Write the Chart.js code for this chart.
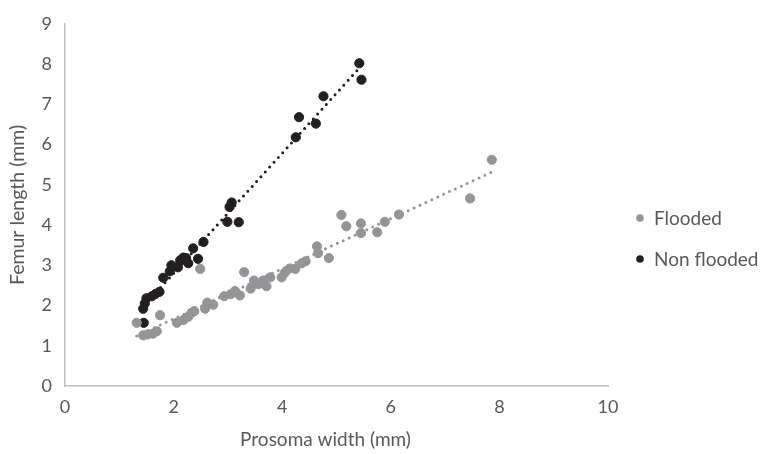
<!DOCTYPE html>
<html>
<head>
<meta charset="utf-8">
<script src="https://cdn.jsdelivr.net/npm/chart.js@4/dist/chart.umd.min.js"></script>
<style>
html,body{margin:0;padding:0;background:#fff;}
#wrap{width:765px;height:454px;position:relative;}
</style>
</head>
<body>
<div id="wrap"><canvas id="c" width="765" height="454"></canvas></div>
<script>
// ---- Data ----
const seriesNames = ["Flooded", "Non flooded"];
const floodedX = [1.32,1.44,1.52,1.62,1.69,1.75,2.06,2.18,2.27,2.33,2.38,2.49,2.58,2.62,2.73,2.93,3.05,3.13,3.22,3.30,3.42,3.48,3.56,3.65,3.71,3.78,3.99,4.05,4.14,4.24,4.36,4.43,4.64,4.66,4.86,5.09,5.18,5.45,5.45,5.75,5.89,6.15,7.46,7.86];
const floodedY = [1.57,1.26,1.28,1.30,1.36,1.76,1.57,1.64,1.72,1.82,1.86,2.91,1.92,2.07,2.02,2.23,2.28,2.36,2.25,2.83,2.42,2.62,2.53,2.62,2.48,2.70,2.70,2.82,2.92,2.91,3.05,3.10,3.47,3.30,3.18,4.25,3.97,4.04,3.80,3.82,4.08,4.26,4.66,5.62];
const nonFloodedX = [1.45,1.44,1.47,1.50,1.60,1.67,1.74,1.81,1.93,1.96,2.08,2.12,2.18,2.27,2.23,2.36,2.45,2.55,2.99,3.03,3.07,3.20,4.25,4.31,4.62,4.76,5.42,5.46];
const nonFloodedY = [1.57,1.92,2.05,2.18,2.23,2.29,2.34,2.69,2.85,3.00,2.95,3.12,3.19,3.05,3.18,3.42,3.16,3.58,4.08,4.45,4.56,4.07,6.18,6.68,6.52,7.20,8.02,7.61];
const xTicks = [0,2,4,6,8,10];
const yTicks = [0,1,2,3,4,5,6,7,8,9];
const xTitle = "Prosoma width (mm)";
const yTitle = "Femur length (mm)";

const GRAY = "#939598";
const BLACK = "#231f20";
const TEXT = "#595959";
const FONT = "Lato";

function pts(xs, ys){ return xs.map((x,i)=>({x:x, y:ys[i]})); }
// Linear (least squares) trendline, as in the spreadsheet's trendline option
function trend(xs, ys){
  const n = xs.length;
  const mx = xs.reduce((a,b)=>a+b,0)/n, my = ys.reduce((a,b)=>a+b,0)/n;
  let sxy=0, sxx=0;
  for(let i=0;i<n;i++){ sxy += (xs[i]-mx)*(ys[i]-my); sxx += (xs[i]-mx)*(xs[i]-mx); }
  const b = sxy/sxx, a = my - b*mx;
  const x0 = Math.min(...xs), x1 = Math.max(...xs);
  return [{x:x0, y:a+b*x0}, {x:x1, y:a+b*x1}];
}

const legendPlugin = {
  id: 'sideLegend',
  afterDraw(chart){
    const ctx = chart.ctx, ca = chart.chartArea;
    const items = chart.data.datasets.filter(d=>d.legend);
    ctx.save();
    ctx.font = "19px " + FONT;
    ctx.textBaseline = "middle";
    const x = ca.right + 32, y0 = 218, gap = 41;
    items.forEach((d,i)=>{
      const y = y0 + i*gap;
      ctx.fillStyle = d.backgroundColor;
      ctx.beginPath(); ctx.arc(x, y, 3.8, 0, Math.PI*2); ctx.fill();
      ctx.fillStyle = TEXT;
      ctx.fillText(d.label, x + 14, y + 1);
    });
    // x axis title, centred a little left of the plot centre as in the reference
    ctx.font = "19px " + FONT;
    ctx.textAlign = "center";
    ctx.fillStyle = TEXT;
    ctx.fillText(xTitle, (ca.left + ca.right)/2 - 11, 440);
    ctx.restore();
  }
};

const fTrend = trend(floodedX, floodedY);
const nTrend = trend(nonFloodedX, nonFloodedY);

new Chart(document.getElementById('c'), {
  type: 'scatter',
  data: {
    datasets: [
      {label: seriesNames[0], legend:true, data: pts(floodedX, floodedY), backgroundColor: GRAY, borderColor: GRAY, pointRadius: 4.6, pointBorderWidth: 1, order: 2},
      {label: seriesNames[1], legend:true, data: pts(nonFloodedX, nonFloodedY), backgroundColor: BLACK, borderColor: BLACK, pointRadius: 4.6, pointBorderWidth: 1, order: 2},
      {label: "Flooded trend", data: fTrend, showLine: true, pointRadius: 0, borderColor: GRAY, borderWidth: 3, borderDash: [0, 6.5], borderCapStyle: 'round', order: 1},
      {label: "Non flooded trend", data: nTrend, showLine: true, pointRadius: 0, borderColor: BLACK, borderWidth: 3, borderDash: [0, 6.5], borderCapStyle: 'round', order: 1}
    ]
  },
  options: {
    responsive: false,
    animation: false,
    devicePixelRatio: 1,
    layout: { padding: { top: 15, right: 157, left: 0, bottom: 0 } },
    plugins: { legend: { display: false }, tooltip: { enabled: false } },
    scales: {
      x: {
        type: 'linear', min: 0, max: 10,
        afterBuildTicks: s => { s.ticks = xTicks.map(v=>({value:v})); },
        afterFit: s => { s.height = 454 - 386; },
        grid: { display: false, drawTicks: false },
        border: { display: true, color: "#bfbfbf", width: 1.5 },
        ticks: { color: TEXT, font: { family: FONT, size: 18 }, padding: 10 },
        title: { display: false }
      },
      y: {
        type: 'linear', min: 0, max: 9,
        afterBuildTicks: s => { s.ticks = yTicks.map(v=>({value:v})); },
        afterFit: s => { s.width = 65; },
        grid: { display: false, drawTicks: false },
        border: { display: true, color: "#bfbfbf", width: 1.5 },
        ticks: { color: TEXT, font: { family: FONT, size: 18 }, padding: 13 },
        title: { display: true, text: yTitle, color: TEXT, font: { family: FONT, size: 19.5 }, padding: { top: 6, bottom: 4 } }
      }
    }
  },
  plugins: [legendPlugin]
});
</script>
</body>
</html>
